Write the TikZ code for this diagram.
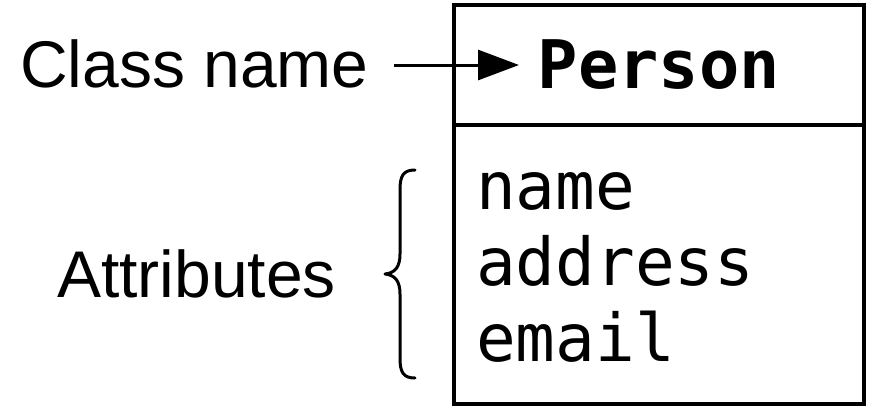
\documentclass[tikz,border=0pt]{standalone}
\usepackage{fontspec}
\setmainfont{Liberation Sans}
\setmonofont{DejaVu Sans Mono}
\usetikzlibrary{arrows.meta}
\tikzset{
  lbl/.style={inner sep=0pt, anchor=base west, font=\fontsize{66}{76}\selectfont},
  attr/.style={inner sep=0pt, anchor=base west, font=\fontsize{66}{76}\selectfont\ttfamily},
  cname/.style={inner sep=0pt, anchor=base, font=\fontsize{67}{76}\selectfont\ttfamily\bfseries},
  frame/.style={draw, line width=3.5pt, inner sep=0pt, outer sep=0pt},
  conn/.style={line width=3pt, -{Triangle[length=41pt,width=30pt]}},
  bracestyle/.style={line width=3pt, line cap=round, line join=round}
}
\begin{document}
\begin{tikzpicture}[x=1pt,y=-1pt]
\useasboundingbox (0,0) rectangle (870,408);
\fill[white] (0,0) rectangle (870,408);
% class box
\node[frame, minimum width=410pt, minimum height=399pt, anchor=north west] (box) at (454,5) {};
\coordinate (divL) at (454,125);
\coordinate (divR) at (864,125);
\draw[line width=3.5pt] (divL) -- (divR);
% texts
\node[cname] (person) at (659,88) {Person};
\node[attr] (aname) at (476,209) {name};
\node[attr] (aaddr) at (476,285) {address};
\node[attr] (amail) at (476,361) {email};
\node[lbl] (classname) at (20,87) {Class name};
\node[lbl] (attrs) at (57,297) {Attributes};
% arrow
\coordinate (arrS) at (394,65);
\coordinate (arrT) at (519,65);
\draw[conn] (arrS) -- (arrT);
% brace
\draw[bracestyle] (415,170) .. controls (403,170) and (400,176) .. (400,190)
  -- (400,254) .. controls (400,267) and (395,273) .. (385,274)
  .. controls (395,275) and (400,281) .. (400,294)
  -- (400,358) .. controls (400,372) and (403,378) .. (415,378);
\end{tikzpicture}
\end{document}
